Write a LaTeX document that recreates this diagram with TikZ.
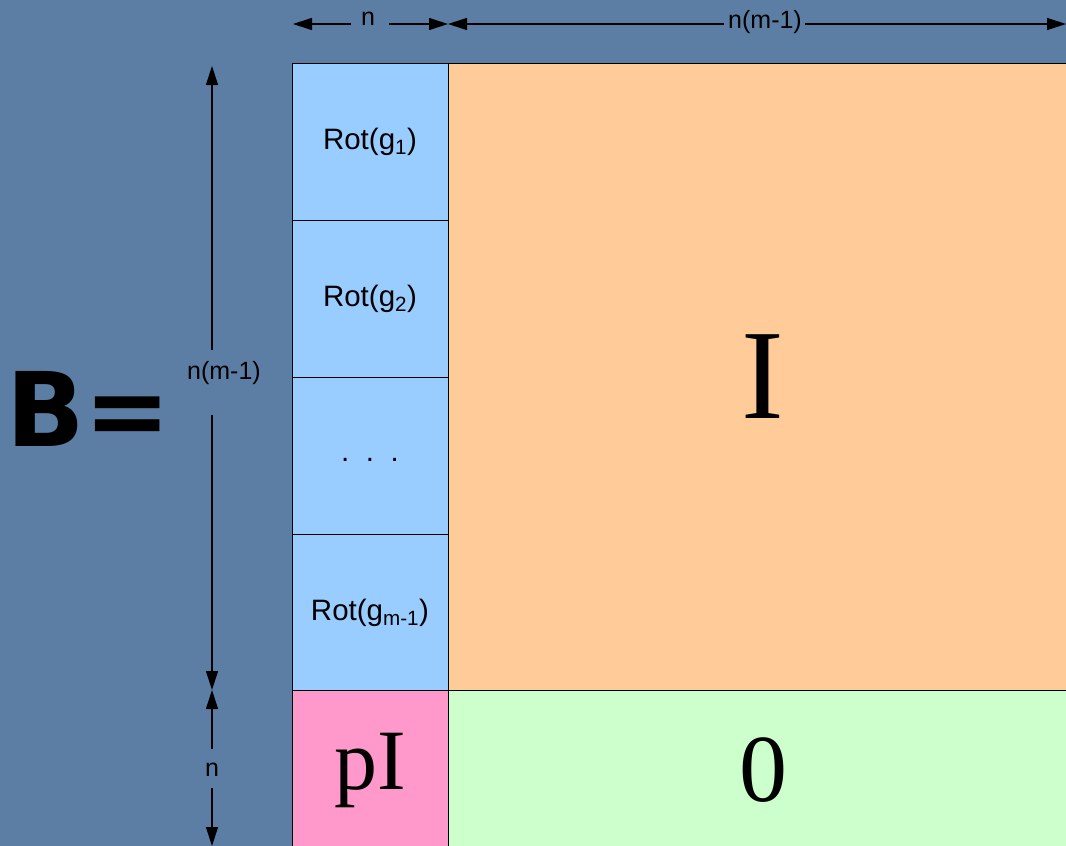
\documentclass[tikz,border=0pt]{standalone}
\usepackage{fontspec}
\setmainfont{Liberation Serif}
\setsansfont{Liberation Sans}
\newfontfamily\bfont{DejaVu Sans}
\usetikzlibrary{arrows.meta}
\definecolor{bgblue}{RGB}{92,126,164}
\definecolor{cblue}{RGB}{153,204,255}
\definecolor{corange}{RGB}{255,204,153}
\definecolor{cpink}{RGB}{255,153,204}
\definecolor{cgreen}{RGB}{204,255,204}
\tikzset{
  cell/.style={draw=black, line width=0.8pt, minimum width=#1, inner sep=0pt, outer sep=0pt, anchor=north west},
  small/.style={font=\sffamily\fontsize{29.5}{33}\selectfont, text=black},
  dimtxt/.style={font=\sffamily\fontsize{25}{28}\selectfont, text=black, inner sep=1pt},
  dim/.style={line width=1.2pt, -{Triangle[length=19pt,width=12pt]}},
}
\begin{document}
\begin{tikzpicture}[x=1pt,y=-1pt]
\fill[bgblue] (0,0) rectangle (1066,846);
\useasboundingbox (0,0) rectangle (1066,846);
% left column
\node[cell=156pt, minimum height=157pt, fill=cblue, small] (r1) at (292,63) {Rot(g\textsubscript{1})};
\node[cell=156pt, minimum height=157pt, fill=cblue, small] (r2) at (292,220) {Rot(g\textsubscript{2})};
\node[cell=156pt, minimum height=157pt, fill=cblue, small] (r3) at (292,377) {\raisebox{-12pt}{.\hspace{16.5pt}.\hspace{16.5pt}.}};
\node[cell=156pt, minimum height=157pt, fill=cblue, small] (r4) at (292,534) {Rot(g\textsubscript{m-1})};
\node[cell=156pt, minimum height=160pt, fill=cpink, font=\fontsize{86}{96}\selectfont] (pi) at (292,690) {pI};
% right blocks
\node[cell=630pt, minimum height=627pt, fill=corange, font=\fontsize{128}{140}\selectfont] (I) at (448,63) {I};
\node[cell=630pt, minimum height=160pt, fill=cgreen, font=\fontsize{96}{106}\selectfont] (Z) at (448,690) {0};
% top dimensions
\coordinate (t0) at (293,24);
\coordinate (t1) at (448,24);
\coordinate (t2) at (1066,24);
\coordinate (t0a) at (351,24);
\coordinate (t0b) at (389,24);
\coordinate (t1a) at (724,24);
\coordinate (t1b) at (805,24);
\node[dimtxt] (tn) at (368,19) {n};
\node[dimtxt] (tm) at (765,22) {n(m-1)};
\draw[dim] (t0a) -- (t0);
\draw[dim] (t0b) -- (t1);
\draw[dim] (t1a) -- (t1);
\draw[dim] (t1b) -- (t2);
% left dimensions
\coordinate (l0) at (212,66);
\coordinate (l1) at (212,690);
\coordinate (l2) at (212,846);
\coordinate (l0a) at (212,350);
\coordinate (l1a) at (212,415);
\coordinate (l1b) at (212,749);
\coordinate (l2a) at (212,788);
\node[dimtxt] (lm) at (224,373) {n(m-1)};
\node[dimtxt] (ln) at (212,770) {n};
\draw[dim] (l0a) -- (l0);
\draw[dim] (l1a) -- (l1);
\draw[dim] (l1b) -- (l1);
\draw[dim] (l2a) -- (l2);
% B=
\node[font=\bfont\bfseries\fontsize{103}{112}\selectfont, text=black, inner sep=0pt, anchor=base west] (B) at (6,446) {B=};
\end{tikzpicture}
\end{document}
